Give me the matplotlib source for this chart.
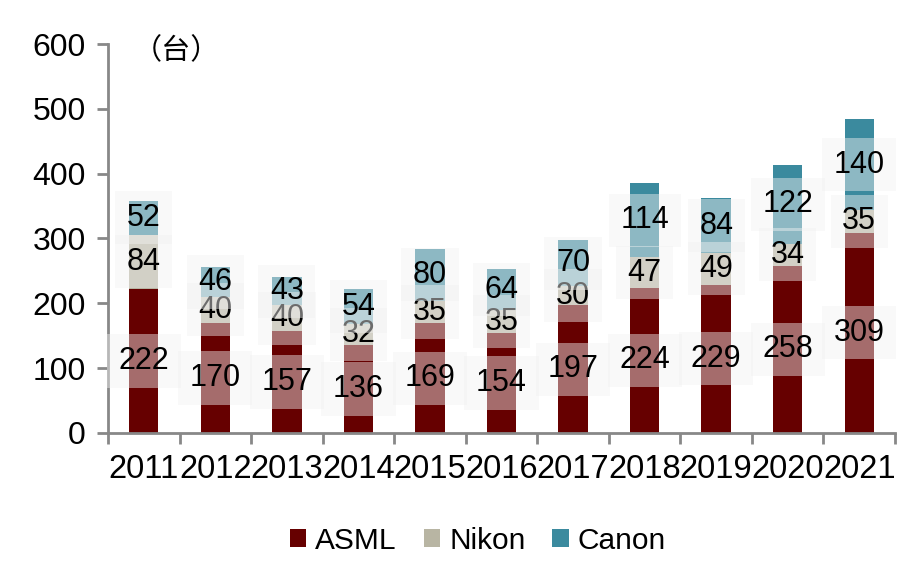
import matplotlib
matplotlib.use("Agg")
import matplotlib.pyplot as plt
import numpy as np

years = ["2011", "2012", "2013", "2014", "2015", "2016", "2017", "2018", "2019", "2020", "2021"]
asml = [222, 170, 157, 136, 169, 154, 197, 224, 229, 258, 309]
nikon = [84, 40, 40, 32, 35, 35, 30, 47, 49, 34, 35]
canon = [52, 46, 43, 54, 80, 64, 70, 114, 84, 122, 140]
series_names = ["ASML", "Nikon", "Canon"]
colors = ["#660000", "#B8B5A3", "#3B8A9E"]
yticks = [0, 100, 200, 300, 400, 500, 600]

plt.rcParams['font.family'] = ['Liberation Sans', 'Noto Sans CJK SC', 'DejaVu Sans']

fig = plt.figure(figsize=(9.17, 5.66), dpi=100)
ax = fig.add_axes([108/917, 1-433/566, (895-108)/917, (433-44)/566])

x = np.arange(len(years))
bottom = np.zeros(len(years))
bw = 0.41
for name, vals, c in zip(series_names, [asml, nikon, canon], colors):
    vals = np.array(vals, dtype=float)
    ax.bar(x, vals, bw, bottom=bottom, color=c, label=name, zorder=2)
    for xi, b, v in zip(x, bottom, vals):
        ax.text(xi, b + v/2, f"{int(v)}", ha='center', va='center', fontsize=22,
                color='black', zorder=3,
                bbox=dict(boxstyle='square,pad=0.38', facecolor='#F2F2F2', edgecolor='none', alpha=0.45))
    bottom += vals

ax.set_xlim(-0.5, len(years)-0.5)
ax.set_ylim(0, 600)
ax.set_yticks(yticks)
ax.set_yticklabels([str(t) for t in yticks], fontsize=23)
ax.set_xticks(x)
ax.set_xticklabels(years, fontsize=23.5)
ax.tick_params(axis='x', length=0, pad=15)
ax.set_xticks(np.arange(-0.5, len(years)), minor=True)
ax.tick_params(axis='x', which='minor', length=8, width=2, color='#888888')
ax.tick_params(axis='y', length=8, width=2, color='#888888', pad=8)

for s in ['top', 'right']:
    ax.spines[s].set_visible(False)
for s in ['left', 'bottom']:
    ax.spines[s].set_color('#888888')
    ax.spines[s].set_linewidth(2)

fig.text(133/917, 1-51/566, "（台）", fontsize=21, family=['Noto Sans CJK SC', 'DejaVu Sans'],
         ha='left', va='center')

leg = fig.legend(loc='center', bbox_to_anchor=(478/917, 1-541/566), ncol=3, frameon=False,
                 fontsize=21.5, handlelength=0.55, handleheight=0.55, handletextpad=0.3,
                 columnspacing=0.9)

fig.savefig("out.png", dpi=100)
